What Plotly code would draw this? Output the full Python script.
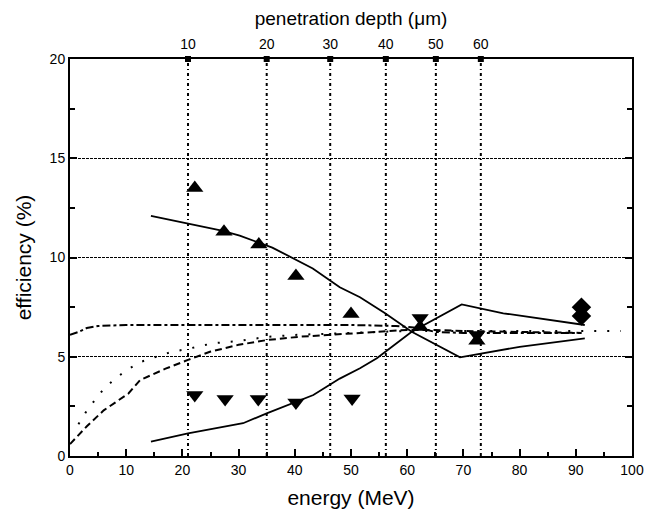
import plotly.graph_objects as go

# ---- data ----
depth_labels = ["10", "20", "30", "40", "50", "60"]
depth_energy = [21.0, 35.0, 46.3, 56.2, 65.1, 73.1]

up_x = [22.2, 27.4, 33.6, 40.2, 50.0, 62.3, 72.4]
up_y = [13.5, 11.3, 10.65, 9.07, 7.15, 6.5, 5.8]

down_x = [22.2, 27.6, 33.5, 40.2, 50.2, 62.3, 72.4]
down_y = [3.07, 2.87, 2.87, 2.7, 2.9, 6.95, 6.1]

diam_x = [91.0, 91.0]
diam_y = [7.5, 7.05]

dec_x = [14.4, 21.0, 27.0, 30.2, 36.0, 43.2, 48.0, 51.6, 56.0, 60.8, 69.4, 80.0, 91.6]
dec_y = [12.1, 11.7, 11.35, 11.1, 10.5, 9.45, 8.5, 8.0, 7.2, 6.26, 4.97, 5.5, 5.93]

inc_x = [14.4, 21.0, 30.8, 35.0, 43.3, 48.0, 51.6, 54.6, 60.8, 69.7, 77.1, 91.6]
inc_y = [0.72, 1.14, 1.65, 2.15, 3.07, 3.9, 4.42, 4.92, 6.26, 7.64, 7.19, 6.6]

a_x = [0, 1.5, 3, 5, 10, 20, 30, 40, 50, 58, 62, 65, 70, 80, 91]
a_y = [6.1, 6.25, 6.45, 6.55, 6.6, 6.6, 6.6, 6.6, 6.6, 6.55, 6.45, 6.25, 6.2, 6.2, 6.2]

b_x = [0, 3, 6, 10.4, 12.5, 17, 21, 24.9, 30, 35, 40.9, 51.6, 60, 65, 70, 80, 91]
b_y = [0.6, 1.5, 2.3, 3.15, 3.83, 4.4, 4.84, 5.25, 5.6, 5.84, 6.01, 6.18, 6.35, 6.35, 6.3, 6.25, 6.2]

c_x = [1.5, 2.8, 5.3, 7.9, 10.4, 12.7, 15.4, 18.1, 20.5, 25.5, 30.2, 35, 40, 50, 60, 70, 80, 90, 98]
c_y = [1.6, 2.2, 3.15, 3.88, 4.38, 4.75, 5.0, 5.25, 5.37, 5.68, 5.8, 6.0, 6.1, 6.2, 6.3, 6.3, 6.3, 6.3, 6.3]

FONT = "Liberation Sans, Arial, sans-serif"

fig = go.Figure()

fig.add_trace(go.Scatter(x=a_x, y=a_y, mode="lines",
                         line=dict(color="black", width=2, dash="8px,3px,3px,3px")))
fig.add_trace(go.Scatter(x=b_x, y=b_y, mode="lines",
                         line=dict(color="black", width=2, dash="7px,4px")))
fig.add_trace(go.Scatter(x=c_x, y=c_y, mode="lines",
                         line=dict(color="black", width=2, dash="2px,11px")))
fig.add_trace(go.Scatter(x=dec_x, y=dec_y, mode="lines",
                         line=dict(color="black", width=1.8)))
fig.add_trace(go.Scatter(x=inc_x, y=inc_y, mode="lines",
                         line=dict(color="black", width=1.8)))

fig.add_trace(go.Scatter(x=up_x, y=up_y, mode="markers",
                         marker=dict(symbol="triangle-up", size=15, color="black")))
fig.add_trace(go.Scatter(x=down_x, y=down_y, mode="markers",
                         marker=dict(symbol="triangle-down", size=15, color="black")))
fig.add_trace(go.Scatter(x=diam_x, y=diam_y, mode="markers",
                         marker=dict(symbol="diamond", size=15, color="black")))

# top axis markers (squares)
fig.add_trace(go.Scatter(x=depth_energy, y=[20] * len(depth_energy), mode="markers",
                         xaxis="x2", cliponaxis=False,
                         marker=dict(symbol="square", size=6, color="black")))

for e in depth_energy:
    fig.add_shape(type="line", x0=e, x1=e, y0=0, y1=20, xref="x", yref="y",
                  line=dict(color="black", width=2, dash="3px,3px,1px,3px"), layer="below")

fig.update_layout(
    width=655, height=517,
    margin=dict(l=62, r=31, t=51, b=69, autoexpand=False),
    plot_bgcolor="white", paper_bgcolor="white",
    showlegend=False,
    font=dict(family=FONT, color="black", size=14),
    xaxis=dict(range=[0, 100], dtick=10, tick0=0, ticks="inside", ticklen=7,
               tickwidth=1.5, tickcolor="black",
               minor=dict(dtick=5, ticks="inside", ticklen=4, tickwidth=1.5, tickcolor="black"),
               showline=True, linecolor="black", linewidth=2, mirror=True,
               showgrid=False, zeroline=False, automargin=False,
               title=dict(text="energy (MeV)", font=dict(size=21), standoff=14),
               tickfont=dict(size=14)),
    xaxis2=dict(range=[0, 100], overlaying="x", side="top", tickmode="array",
                tickvals=depth_energy, ticktext=depth_labels, ticks="outside",
                ticklen=3, tickcolor="rgba(0,0,0,0)", automargin=False,
                showline=False, showgrid=False, zeroline=False,
                title=dict(text="penetration depth (μm)", font=dict(size=19), standoff=8),
                tickfont=dict(size=14)),
    yaxis=dict(range=[0, 20], dtick=5, tick0=0, ticks="inside", ticklen=7,
               tickwidth=1.5, tickcolor="black",
               minor=dict(dtick=2.5, ticks="inside", ticklen=5, tickwidth=1.5, tickcolor="black"),
               showline=True, linecolor="black", linewidth=2, mirror="ticks",
               showgrid=True, gridcolor="black", gridwidth=1.3, griddash="3px,1px",
               zeroline=False, automargin=False,
               title=dict(text="efficiency (%)", font=dict(size=21), standoff=12),
               tickfont=dict(size=14)),
)

fig.write_html("out.html")
